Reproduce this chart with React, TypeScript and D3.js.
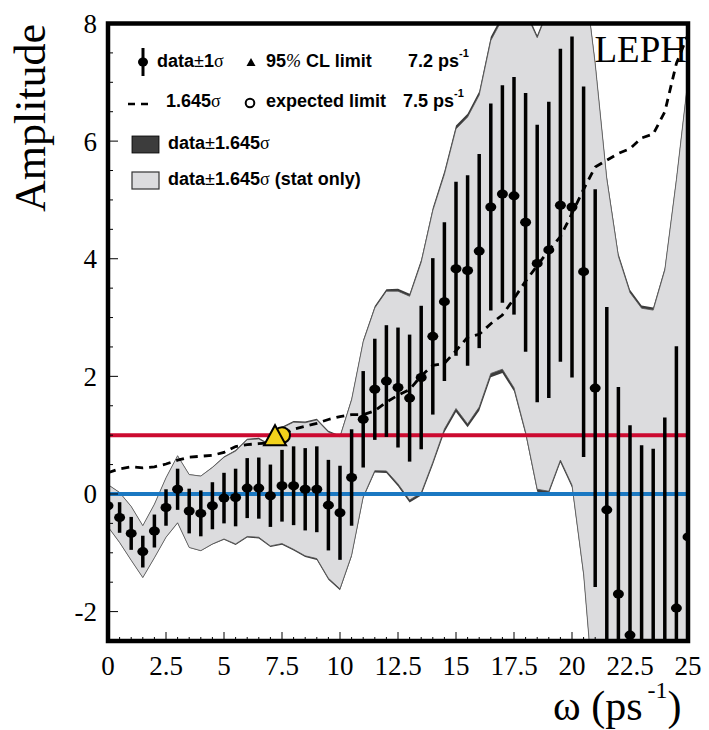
import React from "react";
import * as d3 from "d3";

// amplitude scan, one point every 0.5 ps^-1
const omega = [
  0, 0.5, 1, 1.5, 2, 2.5, 3, 3.5, 4, 4.5, 5, 5.5, 6, 6.5, 7, 7.5, 8, 8.5, 9, 9.5,
  10, 10.5, 11, 11.5, 12, 12.5, 13, 13.5, 14, 14.5, 15, 15.5, 16, 16.5, 17, 17.5,
  18, 18.5, 19, 19.5, 20, 20.5, 21, 21.5, 22, 22.5, 23, 23.5, 24, 24.5, 25,
];
const amplitude = [
  -0.2, -0.4, -0.67, -0.98, -0.63, -0.23, 0.08, -0.29, -0.33, -0.2, -0.07, -0.06,
  0.1, 0.1, -0.03, 0.14, 0.14, 0.08, 0.08, -0.19, -0.32, 0.28, 1.27, 1.78, 1.92,
  1.81, 1.63, 1.98, 2.68, 3.27, 3.83, 3.8, 4.13, 4.88, 5.1, 5.07, 4.62, 3.92, 4.15,
  4.91, 4.88, 3.78, 1.8, -0.27, -1.7, -2.4, -2.85, -2.95, -2.65, -1.94, -0.73,
];
const sigmaTot = [
  0.22, 0.26, 0.28, 0.27, 0.28, 0.31, 0.35, 0.38, 0.39, 0.4, 0.43, 0.49, 0.51,
  0.52, 0.53, 0.61, 0.67, 0.7, 0.73, 0.77, 0.8, 0.82, 0.82, 0.86, 0.95, 1.02, 1.08,
  1.22, 1.33, 1.35, 1.48, 1.62, 1.65, 1.76, 1.85, 2.02, 2.2, 2.36, 2.52, 2.66, 2.9,
  3.15, 3.38, 3.45, 3.52, 3.57, 3.68, 3.72, 3.95, 4.45, 4.75,
];
const sigmaSyst = [
  0.03, 0.03, 0.03, 0.03, 0.04, 0.04, 0.05, 0.05, 0.06, 0.06, 0.08, 0.1, 0.1,
  0.11, 0.11, 0.12, 0.13, 0.13, 0.14, 0.15, 0.15, 0.16, 0.17, 0.18, 0.2, 0.22,
  0.24, 0.26, 0.28, 0.3, 0.32, 0.33, 0.35, 0.37, 0.38, 0.38, 0.36, 0.35, 0.36,
  0.37, 0.38, 0.4, 0.42, 0.44, 0.46, 0.46, 0.45, 0.44, 0.44, 0.45, 0.45,
];

const xTicks = [0, 2.5, 5, 7.5, 10, 12.5, 15, 17.5, 20, 22.5, 25];
const yTicks = [-2, 0, 2, 4, 6, 8];
const limit95 = 7.2;
const limitExpected = 7.5;

const SERIF = "'Liberation Serif', 'Times New Roman', serif";
const SANS = "'Liberation Sans', Arial, sans-serif";

export default function App() {
  const width = 709;
  const height = 730;
  const frame = { left: 108, right: 688, top: 23.5, bottom: 641 };

  const x = d3.scaleLinear().domain([0, 25]).range([frame.left, frame.right]);
  const y = d3.scaleLinear().domain([-2.5, 8]).range([frame.bottom, frame.top]);

  const pts = omega.map((w, i) => {
    const tot = sigmaTot[i];
    const syst = sigmaSyst[i];
    return {
      w,
      a: amplitude[i],
      tot,
      stat: Math.sqrt(Math.max(tot * tot - syst * syst, 0)),
    };
  });

  const bandTot = d3
    .area<any>()
    .x((d) => x(d.w))
    .y0((d) => y(d.a - 1.645 * d.tot))
    .y1((d) => y(d.a + 1.645 * d.tot));
  const bandStat = d3
    .area<any>()
    .x((d) => x(d.w))
    .y0((d) => y(d.a - 1.645 * d.stat))
    .y1((d) => y(d.a + 1.645 * d.stat));
  const sens = d3
    .line<any>()
    .x((d) => x(d.w))
    .y((d) => y(1.645 * d.tot));

  const minorY = d3.range(-2.5, 8.001, 0.5);
  const minorX = d3.range(0, 25.001, 0.5);

  const triX = x(limit95);
  const triY = y(1);

  return (
    <svg
      width={width}
      height={height}
      style={{ position: "absolute", left: 0, top: 0, background: "white" }}
    >
      <defs>
        <clipPath id="plot">
          <rect
            x={frame.left}
            y={frame.top}
            width={frame.right - frame.left}
            height={frame.bottom - frame.top}
          />
        </clipPath>
      </defs>

      {/* experiment label, partly covered by the band */}
      <text
        x={687}
        y={62}
        textAnchor="end"
        fontFamily={SERIF}
        fontSize={37}
      >
        ALEPH
      </text>

      <g clipPath="url(#plot)">
        <path d={bandTot(pts) || ""} fill="#3c3c3c" />
        <path
          d={bandStat(pts) || ""}
          fill="#dcdcde"
          stroke="#555"
          strokeWidth={0.8}
        />
        <line
          x1={frame.left}
          x2={frame.right}
          y1={y(1)}
          y2={y(1)}
          stroke="#cc0a30"
          strokeWidth={4}
        />
        <line
          x1={frame.left}
          x2={frame.right}
          y1={y(0)}
          y2={y(0)}
          stroke="#1a78c2"
          strokeWidth={4}
        />
        <path
          d={sens(pts) || ""}
          fill="none"
          stroke="black"
          strokeWidth={2.8}
          strokeDasharray="8,6"
        />
        {pts.map((d, i) => (
          <g key={i}>
            <line
              x1={x(d.w)}
              x2={x(d.w)}
              y1={y(d.a - d.tot)}
              y2={y(d.a + d.tot)}
              stroke="black"
              strokeWidth={3.5}
            />
            <ellipse cx={x(d.w)} cy={y(d.a)} rx={5.5} ry={4.5} fill="black" />
          </g>
        ))}
        <circle
          cx={x(limitExpected)}
          cy={triY}
          r={8}
          fill="#f2d21b"
          stroke="black"
          strokeWidth={2}
        />
        <path
          d={`M${triX},${triY - 10} L${triX + 11},${triY + 10} L${triX - 11},${triY + 10} Z`}
          fill="#f2d21b"
          stroke="black"
          strokeWidth={2}
        />
      </g>

      {/* ticks */}
      {minorY.map((v) => {
        const major = yTicks.includes(v);
        return (
          <line
            key={"yt" + v}
            x1={frame.left}
            x2={frame.left + (major ? 10 : 5)}
            y1={y(v)}
            y2={y(v)}
            stroke="black"
            strokeWidth={1}
          />
        );
      })}
      {minorX.map((v) => {
        const major = xTicks.includes(v);
        return (
          <line
            key={"xt" + v}
            x1={x(v)}
            x2={x(v)}
            y1={frame.bottom}
            y2={frame.bottom - (major ? 9 : 4)}
            stroke="black"
            strokeWidth={1}
          />
        );
      })}

      <rect
        x={frame.left}
        y={frame.top}
        width={frame.right - frame.left}
        height={frame.bottom - frame.top}
        fill="none"
        stroke="black"
        strokeWidth={4.5}
      />

      {yTicks.map((v) => (
        <text
          key={"yl" + v}
          x={97}
          y={y(v)}
          dy="0.35em"
          textAnchor="end"
          fontFamily={SERIF}
          fontSize={27}
        >
          {v}
        </text>
      ))}
      {xTicks.map((v) => (
        <text
          key={"xl" + v}
          x={x(v)}
          y={675}
          textAnchor="middle"
          fontFamily={SERIF}
          fontSize={27}
        >
          {v}
        </text>
      ))}

      <text
        transform="translate(45,118) rotate(-90)"
        textAnchor="middle"
        fontFamily={SERIF}
        fontSize={44}
      >
        Amplitude
      </text>
      <text x={553} y={720} fontFamily={SERIF} fontSize={42}>
        ω (ps
        <tspan dx={5} dy={-22} fontSize={24}>
          -1
        </tspan>
        <tspan dy={22} fontSize={42}>
          )
        </tspan>
      </text>

      {/* legend */}
      <g fontFamily={SANS} fontSize={18} fontWeight="bold">
        <line x1={143} x2={143} y1={48} y2={76} stroke="black" strokeWidth={3} />
        <ellipse cx={143} cy={62} rx={5} ry={4.5} fill="black" />
        <text x={157} y={67}>
          data<tspan fontWeight="normal">±</tspan>1
          <tspan fontFamily={SERIF} fontWeight="normal">σ</tspan>
        </text>
        <path d="M246.5,66 L255.5,66 L251,58 Z" fill="black" />
        <text x={266} y={67}>
          95<tspan fontFamily={SERIF} fontStyle="italic" fontWeight="normal">%</tspan> CL limit
        </text>
        <text x={408} y={67}>
          7.2 ps<tspan dy={-10} fontSize={11}>-1</tspan>
        </text>

        <line
          x1={128}
          x2={153}
          y1={104}
          y2={104}
          stroke="black"
          strokeWidth={2.5}
          strokeDasharray="7,6"
        />
        <text x={166} y={107}>
          1.645<tspan fontFamily={SERIF} fontWeight="normal">σ</tspan>
        </text>
        <circle cx={250} cy={103} r={4.3} fill="none" stroke="black" strokeWidth={2} />
        <text x={266} y={107}>expected limit</text>
        <text x={403} y={107}>
          7.5 ps<tspan dy={-10} fontSize={11}>-1</tspan>
        </text>

        <rect x={132} y={136} width={27} height={17} fill="#3c3c3c" stroke="black" strokeWidth={0.8} />
        <text x={168} y={149}>
          data<tspan fontWeight="normal">±</tspan>1.645
          <tspan fontFamily={SERIF} fontWeight="normal">σ</tspan>
        </text>
        <rect x={132} y={172} width={27} height={17} fill="#dcdcde" stroke="#333" strokeWidth={1.2} />
        <text x={168} y={185}>
          data<tspan fontWeight="normal">±</tspan>1.645
          <tspan fontFamily={SERIF} fontWeight="normal">σ</tspan> (stat only)
        </text>
      </g>
    </svg>
  );
}
